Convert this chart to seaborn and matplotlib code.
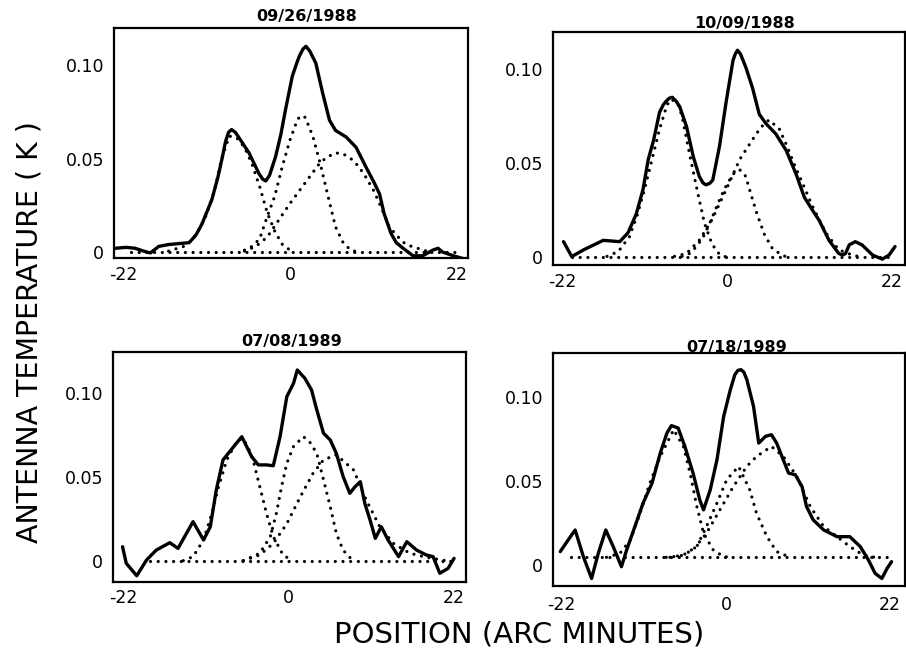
import matplotlib
matplotlib.use('Agg')
import matplotlib.pyplot as plt
import seaborn as sns

# dates of the four scans
titles = ['09/26/1988', '10/09/1988', '07/08/1989', '07/18/1989']
xtick_vals = [-22, 0, 22]
xtick_labels = ['-22', '0', '22']
ytick_vals = [0, 0.05, 0.10]
ytick_labels = ['0', '0.05', '0.10']

# 09/26/1988
p1_x = [-23.0, -21.6, -20.4, -19.3, -18.4, -17.3, -16.0, -13.3, -12.4, -11.6, -10.3, -9.5, -8.9, -8.5, -8.1, -7.7,
        -7.2, -6.7, -5.4, -4.1, -3.6, -3.2, -2.7, -1.9, -1.2, -0.6, 0.3, 0.8, 1.2, 1.7, 2.1, 2.6, 3.4, 4.3, 5.2,
        6.0, 7.4, 8.7, 10.0, 11.1, 11.8, 12.4, 13.3, 14.0, 14.9, 16.2, 17.5, 18.8, 19.5, 20.1, 21.5, 22.8]
p1_y = [0.002, 0.0025, 0.002, 0.0005, -0.0005, 0.003, 0.004, 0.005, 0.009, 0.015, 0.028, 0.040, 0.051, 0.059,
        0.064, 0.0655, 0.064, 0.061, 0.053, 0.042, 0.039, 0.038, 0.041, 0.051, 0.063, 0.076, 0.094, 0.100, 0.1045,
        0.1085, 0.11, 0.1075, 0.101, 0.085, 0.0705, 0.065, 0.0615, 0.056, 0.0455, 0.037, 0.031, 0.0205, 0.01, 0.005,
        0.002, -0.002, -0.002, 0.001, 0.002, 0.0, -0.002, -0.0035]
p1a_x = [-16, -14, -13, -12, -11, -10, -9, -8, -7, -6, -5, -4, -3, -2, -1, 0]
p1a_y = [0.0005, 0.003, 0.006, 0.012, 0.02, 0.032, 0.05, 0.062, 0.061, 0.056, 0.047, 0.035, 0.021, 0.011, 0.004, 0.001]
p1b_x = [-6, -5, -4, -3, -2, -1, 0, 1, 1.5, 2, 3, 4, 5, 6, 7, 8, 9]
p1b_y = [0.001, 0.003, 0.007, 0.019, 0.03, 0.046, 0.06, 0.071, 0.073, 0.072, 0.062, 0.047, 0.03, 0.0134, 0.005,
         0.001, 0.0]
p1c_x = [-6, -4.5, -3, -1.5, 0, 2, 4, 5, 6, 7, 8, 9, 10, 11, 12, 13, 14, 15, 16, 18]
p1c_y = [0.0005, 0.003, 0.008, 0.017, 0.026, 0.037, 0.048, 0.051, 0.053, 0.0525, 0.05, 0.046, 0.040, 0.033, 0.024,
         0.014, 0.009, 0.005, 0.003, 0.0005]
p1_base = [0.0, 0.0]
p1_base_x = [-21, 22]

# 10/09/1988
p2_x = [-21.8, -20.7, -19.1, -16.5, -14.3, -13.2, -12.1, -11.2, -10.5, -9.8, -9.0, -8.5, -8.1, -7.7, -7.3, -6.8,
        -6.3, -5.4, -4.5, -3.7, -3.2, -2.8, -2.3, -1.9, -1.0, -0.1, 0.8, 1.1, 1.4, 1.8, 2.5, 3.4, 4.3, 5.2, 6.5, 7.9,
        9.2, 10.3, 11.4, 12.3, 13.6, 14.9, 15.4, 15.8, 16.3, 17.1, 18.0, 19.4, 20.7, 21.6, 22.4]
p2_y = [0.0083, 0.0004, 0.004, 0.009, 0.0083, 0.013, 0.023, 0.036, 0.052, 0.062, 0.077, 0.081, 0.083, 0.0845,
        0.085, 0.083, 0.080, 0.0695, 0.0535, 0.043, 0.0395, 0.0385, 0.0393, 0.041, 0.059, 0.083, 0.1046, 0.108, 0.11,
        0.108, 0.101, 0.090, 0.076, 0.071, 0.0656, 0.0567, 0.0443, 0.032, 0.025, 0.0195, 0.009, 0.002, 0.0012,
        0.002, 0.0066, 0.0083, 0.0066, 0.0012, -0.001, 0.0012, 0.0057]
p2a_x = [-16, -14.5, -13, -12, -11, -10, -9, -8, -7.4, -6.5, -6, -5, -4, -3, -2, -1, 0]
p2a_y = [0.0005, 0.003, 0.011, 0.022, 0.036, 0.052, 0.068, 0.081, 0.084, 0.081, 0.075, 0.055, 0.036, 0.018, 0.007,
         0.0015, 0.0]
p2b_x = [-6, -5, -4, -3, -2, -1, 0, 1, 1.7, 2.5, 3, 4, 5, 6, 7, 8]
p2b_y = [0.0005, 0.002, 0.006, 0.012, 0.021, 0.0305, 0.039, 0.045, 0.0465, 0.043, 0.036, 0.023, 0.012, 0.005,
         0.002, 0.0]
p2c_x = [-7, -5.4, -3.7, -2, 0, 1.7, 3.4, 4.5, 5.6, 7, 8, 9, 10, 11.4, 13.2, 14.9, 16.7, 18]
p2c_y = [0.0005, 0.002, 0.009, 0.02, 0.037, 0.052, 0.0625, 0.069, 0.073, 0.068, 0.059, 0.049, 0.040, 0.027, 0.0128,
         0.004, 0.0012, 0.0]
p2_base = [0.0, 0.0]
p2_base_x = [-20.7, 22]

# 07/08/1989
p3_x = [-22.1, -21.6, -20.2, -18.9, -17.6, -15.8, -14.7, -12.7, -11.3, -10.4, -9.6, -8.7, -7.8, -6.2, -4.9, -4.0,
        -2.9, -2.0, -1.1, -0.2, 0.7, 1.2, 2.2, 3.1, 3.8, 4.7, 5.6, 6.4, 7.3, 8.2, 8.9, 9.6, 10.2, 10.9, 11.6, 12.4,
        13.3, 14.7, 15.8, 17.1, 18.4, 19.3, 20.2, 21.3, 22.1]
p3_y = [0.0083, -0.0016, -0.009, 0.0004, 0.0063, 0.0107, 0.0073, 0.0232, 0.0123, 0.0202, 0.0421, 0.060, 0.065,
        0.0738, 0.062, 0.057, 0.057, 0.0565, 0.0738, 0.0976, 0.1056, 0.1135, 0.1086, 0.1016, 0.0897, 0.0758, 0.0718,
        0.0639, 0.0502, 0.0401, 0.044, 0.047, 0.0341, 0.0242, 0.0133, 0.0202, 0.0123, 0.0024, 0.0113, 0.0063, 0.0034,
        0.0024, -0.0075, -0.0046, 0.0014]
p3a_x = [-14, -12.7, -11.3, -10.2, -9.3, -8.2, -7, -6.2, -5.5, -4.7, -3.8, -2.9, -2.0, -0.7, 0.5]
p3a_y = [0.0, 0.0024, 0.0123, 0.028, 0.044, 0.060, 0.070, 0.0728, 0.069, 0.060, 0.044, 0.028, 0.0143, 0.0034, 0.0]
p3b_x = [-6, -3.8, -2.4, -1.6, -0.9, -0.2, 0.7, 2.0, 2.8, 3.8, 4.7, 5.6, 6.4, 7.3, 8.6]
p3b_y = [0.0, 0.0044, 0.0143, 0.028, 0.044, 0.058, 0.068, 0.0738, 0.071, 0.0639, 0.048, 0.032, 0.0163, 0.0063, 0.0]
p3c_x = [-6, -3.8, -2.0, -0.2, 1.6, 3.3, 4.7, 6.4, 8.7, 10.4, 12.2, 14, 16.2, 18.4, 21]
p3c_y = [0.0, 0.0034, 0.0103, 0.022, 0.038, 0.052, 0.060, 0.063, 0.054, 0.036, 0.0202, 0.0103, 0.0044, 0.002, 0.0]
p3_base = [0.0, 0.0]
p3_base_x = [-18.5, 22]

# 07/18/1989
p4_x = [-22.2, -21.3, -20.2, -19.1, -18.0, -17.1, -16.1, -15.1, -14.0, -13.3, -12.2, -11.1, -9.9, -8.8, -7.9, -7.3,
        -6.4, -5.5, -4.4, -3.5, -3.0, -2.1, -1.2, -0.3, 0.6, 1.2, 1.6, 2.0, 2.4, 2.8, 3.7, 4.4, 5.3, 6.1, 6.8, 7.5,
        8.4, 9.3, 10.2, 10.8, 11.7, 13.1, 14.9, 16.6, 18.0, 19.1, 20.0, 20.9, 21.6, 22.2]
p4_y = [0.008, 0.0139, 0.0209, 0.005, -0.008, 0.007, 0.0209, 0.011, -0.001, 0.009, 0.0229, 0.0369, 0.0488, 0.0667,
        0.0787, 0.0831, 0.0817, 0.0707, 0.0548, 0.0388, 0.0329, 0.0448, 0.0627, 0.0886, 0.1046, 0.1135, 0.116,
        0.1165, 0.115, 0.1106, 0.0946, 0.0727, 0.0767, 0.0777, 0.0727, 0.0648, 0.0548, 0.0538, 0.0468, 0.0349,
        0.0269, 0.0209, 0.0169, 0.0169, 0.011, 0.003, -0.005, -0.008, -0.002, 0.002]
p4a_x = [-16, -14.2, -12.8, -11.5, -10.2, -8.8, -7.0, -5.7, -4.8, -3.9, -3.0, -1.7, -0.3, 1]
p4a_y = [0.0046, 0.007, 0.0149, 0.031, 0.0488, 0.0647, 0.0807, 0.0707, 0.0548, 0.035, 0.019, 0.009, 0.005, 0.0046]
p4b_x = [-7.5, -5.7, -3.9, -2.6, -1.2, 0.1, 1.7, 3.2, 4.1, 5.5, 6.8, 8.6]
p4b_y = [0.0046, 0.006, 0.011, 0.023, 0.0369, 0.0508, 0.0588, 0.0448, 0.0309, 0.0169, 0.008, 0.0046]
p4c_x = [-8, -6.1, -4.4, -2.6, -0.8, 1.0, 2.8, 4.1, 6.1, 7.7, 9.5, 11.3, 13.1, 14.9, 16.6, 18.4, 20]
p4c_y = [0.0046, 0.0054, 0.009, 0.019, 0.0329, 0.0468, 0.0588, 0.0647, 0.0707, 0.0647, 0.0528, 0.0349, 0.0229,
         0.0169, 0.011, 0.006, 0.0046]
p4_base = [0.0046, 0.0046]
p4_base_x = [-20.7, 22]

sns.set_style('white')
plt.rcParams['font.family'] = ['DejaVu Sans']
plt.rcParams['text.color'] = 'black'

W, H = 906, 665
fig = plt.figure(figsize=(W / 100, H / 100), dpi=100)

# pixel boxes (left, top, right, bottom) and limits for each panel
boxes = [(114, 28, 468, 258), (553, 32, 905, 265), (113, 352, 466, 582), (553, 353, 905, 586)]
xlims = [(-23.19, 23.45), (-23.2, 23.73), (-23.37, 23.69), (-23.17, 24.0)]
ylims = [(-0.0032, 0.1198), (-0.0041, 0.1197), (-0.0127, 0.1242), (-0.0125, 0.1264)]
title_x = [0.545, 0.545, 0.507, 0.523]
title_pad = [5, 3, 4, 1]
xpad = [6, 6, 5, 7.5]

panels = [
    (p1_x, p1_y, [(p1a_x, p1a_y), (p1b_x, p1b_y), (p1c_x, p1c_y), (p1_base_x, p1_base)]),
    (p2_x, p2_y, [(p2a_x, p2a_y), (p2b_x, p2b_y), (p2c_x, p2c_y), (p2_base_x, p2_base)]),
    (p3_x, p3_y, [(p3a_x, p3a_y), (p3b_x, p3b_y), (p3c_x, p3c_y), (p3_base_x, p3_base)]),
    (p4_x, p4_y, [(p4a_x, p4a_y), (p4b_x, p4b_y), (p4c_x, p4c_y), (p4_base_x, p4_base)]),
]

for i, (sx, sy, comps) in enumerate(panels):
    l, t, r, b = boxes[i]
    ax = fig.add_axes([l / W, 1 - b / H, (r - l) / W, (b - t) / H])
    for cx, cy in comps:
        sns.lineplot(x=cx, y=cy, ax=ax, color='black', lw=2.3, sort=False, estimator=None,
                     linestyle=(0, (0.01, 2.4)), dash_capstyle='round')
    sns.lineplot(x=sx, y=sy, ax=ax, color='black', lw=2.4, sort=False, estimator=None,
                 solid_joinstyle='round')
    ax.set_xlim(*xlims[i])
    ax.set_ylim(*ylims[i])
    ax.set_xticks(xtick_vals)
    ax.set_xticklabels(xtick_labels)
    ax.set_yticks(ytick_vals)
    ax.set_yticklabels(ytick_labels)
    ax.tick_params(direction='in', length=4, width=1.5, labelsize=12.5, colors='black')
    ax.tick_params(axis='x', pad=xpad[i])
    ax.tick_params(axis='y', pad=7)
    for s in ax.spines.values():
        s.set_linewidth(1.6)
        s.set_color('black')
    ax.set_title(titles[i], x=title_x[i], pad=title_pad[i], fontsize=11.5, fontweight='bold', color='black')

fig.text(30 / W, 1 - 332 / H, 'ANTENNA TEMPERATURE ( K )', rotation=90, ha='center', va='center',
         fontsize=20.5, color='black')
fig.text(519 / W, 1 - 634 / H, 'POSITION (ARC MINUTES)', ha='center', va='center', fontsize=21, color='black')

fig.savefig('out.png', dpi=100)
